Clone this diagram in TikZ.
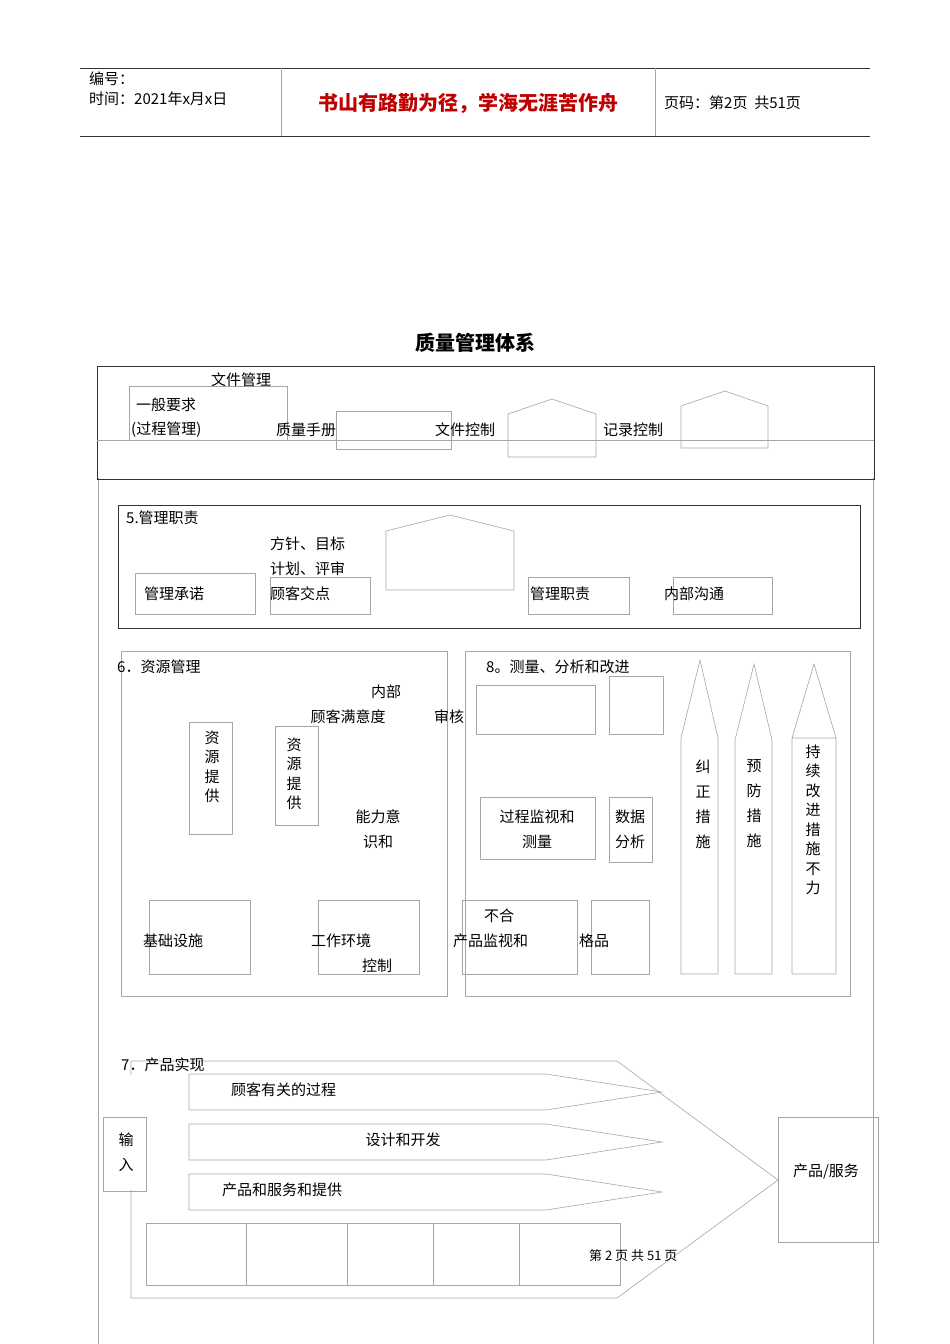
\documentclass[tikz,border=0pt]{standalone}
\usepackage{fontspec}
\newfontfamily\cjk{Noto Sans CJK SC}
\begin{document}
\begin{tikzpicture}[x=1pt,y=-1pt,
  g/.style={draw=gray!70,line width=0.6pt},
  k/.style={draw=black!80,line width=0.8pt},
  t/.style={font=\cjk\fontsize{15}{20}\selectfont,inner sep=0pt,align=center},
  v/.style={font=\cjk\fontsize{15}{19.5}\selectfont,inner sep=0pt,align=center},
  w/.style={font=\cjk\fontsize{15}{25}\selectfont,inner sep=0pt,align=center},
  s/.style={font=\cjk\fontsize{15}{18}\selectfont,inner sep=0pt,anchor=west}]
\useasboundingbox (0,0) rectangle (950,1344);
% header
\draw[k] (80,68) -- (870,68) (80,136) -- (870,136);
\draw[g] (281,68) -- (281,136) (655,68) -- (655,136);
\node[s] (h1) at (89,79) {编号：};
\node[s] (h2) at (89,99) {时间：2021年x月x日};
\node[font=\cjk\bfseries\fontsize{20}{22}\selectfont,text=red!75!black,inner sep=0pt] (h3) at (468,103) {书山有路勤为径，学海无涯苦作舟};
\node[s] (h4) at (664,103) {页码：第2页\ \ 共51页};
\node[font=\cjk\bfseries\fontsize{20}{22}\selectfont,inner sep=0pt] (title) at (475,343) {质量管理体系};
% page side lines
\draw[g] (98,478) -- (98,1344) (873,478) -- (873,1344);
% section 4
\draw[k] (97,366) rectangle (874,479);
\draw[g] (97,440) -- (874,440);
\draw[g] (129,386) rectangle (287,440);
\draw[g] (336,411) rectangle (451,449);
\draw[g] (508,457) -- (508,414) -- (552,399) -- (596,414) -- (596,457) -- cycle;
\draw[g] (681,448) -- (681,406) -- (725,391) -- (768,406) -- (768,448) -- cycle;
\node[t] (a1) at (241,380) {文件管理};
\node[s] (a2) at (136,405) {一般要求};
\node[s] (a3) at (131,430) {(过程管理)};
\node[t] (a4) at (306,430) {质量手册};
\node[t] (a5) at (465,430) {文件控制};
\node[t] (a6) at (633,430) {记录控制};
% section 5
\draw[k] (118,505) rectangle (860,628);
\draw[g] (135,573) rectangle (255,614);
\draw[g] (270,577) rectangle (370,614);
\draw[g] (386,590) -- (386,531) -- (450,515) -- (514,531) -- (514,590) -- cycle;
\draw[g] (528,577) rectangle (629,614);
\draw[g] (673,577) rectangle (772,614);
\node[s] (b0) at (126,518) {5.管理职责};
\node[s] (b1) at (270,544) {方针、目标};
\node[s] (b2) at (270,569) {计划、评审};
\node[s] (b3) at (144,594) {管理承诺};
\node[s] (b4) at (270,594) {顾客交点};
\node[s] (b5) at (530,594) {管理职责};
\node[s] (b6) at (664,594) {内部沟通};
% section 6
\draw[g] (121,651) rectangle (447,996);
\draw[g] (189,722) rectangle (232,834);
\draw[g] (275,726) rectangle (318,825);
\draw[g] (149,900) rectangle (250,974);
\draw[g] (318,900) rectangle (419,974);
\node[s] (c0) at (117,667) {6．资源管理};
\node[v] (c1) at (212,767) {资\\源\\提\\供};
\node[v] (c2) at (294,774) {资\\源\\提\\供};
\node[t] (c3) at (386,692) {内部};
\node[t] (c4) at (348,717) {顾客满意度};
\node[t] (c5) at (449,717) {审核};
\node[w] (c6) at (378,829) {能力意\\识和};
\node[s] (c7) at (143,941) {基础设施};
\node[s] (c8) at (311,941) {工作环境};
\node[t] (c9) at (377,966) {控制};
% section 8
\draw[g] (465,651) rectangle (850,996);
\draw[g] (476,685) rectangle (595,734);
\draw[g] (609,676) rectangle (663,734);
\draw[g] (480,797) rectangle (595,859);
\draw[g] (609,797) rectangle (652,862);
\draw[g] (462,900) rectangle (577,974);
\draw[g] (591,900) rectangle (649,974);
\draw[g] (681,974) -- (681,738) -- (700,660) -- (718,738) -- (718,974) -- cycle;
\draw[g] (735,974) -- (735,740) -- (754,664) -- (772,740) -- (772,974) -- cycle;
\draw[g] (792,974) -- (792,738) -- (814,664) -- (836,738) -- (836,974) -- cycle (792,738) -- (836,738);
\node[s] (d0) at (486,667) {8。测量、分析和改进};
\node[w] (d1) at (537,829) {过程监视和\\测量};
\node[w] (d2) at (630,829) {数据\\分析};
\node[t] (d3) at (499,916) {不合};
\node[s] (d4) at (453,941) {产品监视和};
\node[s] (d5) at (579,941) {格品};
\node[w] (d6) at (703,804) {纠\\正\\措\\施};
\node[w] (d7) at (754,804) {预\\防\\措\\施};
\node[v] (d8) at (813,820) {持\\续\\改\\进\\措\\施\\不\\力};
% section 7
\draw[g] (131,1075) -- (131,1061) -- (617,1061) -- (778,1180) -- (617,1298) -- (131,1298) -- (131,1190);
\draw[g] (103,1117) rectangle (146,1191);
\draw[g] (778,1117) rectangle (878,1242);
\draw[g] (189,1074) -- (546,1074) -- (662,1092) -- (546,1110) -- (189,1110) -- cycle;
\draw[g] (189,1124) -- (546,1124) -- (662,1142) -- (546,1160) -- (189,1160) -- cycle;
\draw[g] (189,1174) -- (546,1174) -- (662,1192) -- (546,1210) -- (189,1210) -- cycle;
\draw[g] (146,1223) rectangle (620,1285);
\draw[g] (246,1223) -- (246,1285) (347,1223) -- (347,1285) (433,1223) -- (433,1285) (519,1223) -- (519,1285);
\node[s] (e0) at (121,1065) {7．产品实现};
\node[w] (e1) at (126,1152) {输\\入};
\node[t] (e2) at (826,1172) {产品/服务};
\node[s] (e3) at (231,1090) {顾客有关的过程};
\node[t] (e4) at (403,1140) {设计和开发};
\node[s] (e5) at (222,1190) {产品和服务和提供};
\node[s,font=\cjk\fontsize{13}{15}\selectfont] (e6) at (589,1256) {第 2 页 共 51 页};
\end{tikzpicture}
\end{document}
